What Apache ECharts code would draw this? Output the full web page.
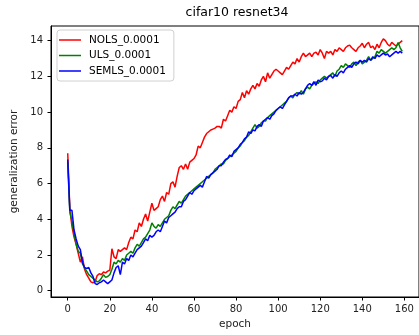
<!DOCTYPE html>
<html>
<head>
<meta charset="utf-8">
<script src="https://cdn.jsdelivr.net/npm/echarts@6/dist/echarts.min.js"></script>
<style>html,body{margin:0;padding:0;background:#fff}#c{width:419px;height:335px}</style>
</head>
<body>
<div id="c"></div>
<script>
const epochs = Array.from({length: 160}, (_, i) => i);
const xTicks = [0, 20, 40, 60, 80, 100, 120, 140, 160];
const yTicks = [0, 2, 4, 6, 8, 10, 12, 14];
const seriesNames = ['NOLS_0.0001', 'ULS_0.0001', 'SEMLS_0.0001'];

const nols = [
7.7,4.6,3.6,3.0,2.6,2.1,1.6,1.9,1.2,0.9,
0.7,0.5,0.45,0.5,0.85,0.95,0.9,1.05,1.0,1.1,
1.15,2.35,1.9,1.8,2.3,2.2,2.3,2.4,2.3,2.7,
3.0,2.9,3.4,3.3,3.8,3.6,4.0,4.3,3.9,4.4,
4.9,4.5,4.6,4.7,5.1,5.3,5.0,5.5,5.4,6.0,
6.1,5.8,6.4,6.9,7.0,6.8,7.1,6.8,7.2,7.3,
7.4,7.6,8.1,8.0,8.3,8.6,8.8,8.9,9.0,9.05,
9.1,9.2,9.2,9.1,9.6,9.5,9.8,10.1,10.0,10.3,
10.2,10.6,10.7,11.1,10.8,11.2,11.0,11.3,11.5,11.3,
11.6,11.45,11.8,12.0,11.7,12.2,11.9,12.1,12.3,12.4,
12.3,12.2,12.1,12.3,12.5,12.4,12.6,12.8,12.7,13.0,
12.8,13.1,13.3,13.1,13.2,13.3,13.1,13.3,13.35,13.2,
13.5,13.3,13.0,13.4,13.3,13.4,13.2,13.5,13.4,13.6,
13.5,13.4,13.6,13.7,13.75,13.6,13.5,13.4,13.6,13.7,
13.85,13.6,13.8,13.9,13.6,13.7,13.5,13.8,13.6,13.9,
14.1,14.0,13.8,13.7,13.9,13.8,13.7,13.8,13.9,14.0
];
const uls = [
7.2,4.4,3.9,3.2,2.6,2.2,2.1,1.5,1.3,1.1,
0.9,0.8,0.7,0.6,0.5,0.55,0.7,0.9,0.75,0.8,
0.9,1.2,1.6,1.5,1.7,1.6,1.8,1.7,2.0,2.1,
2.2,2.1,2.4,2.6,2.5,2.7,2.9,3.0,3.2,3.4,
3.8,3.6,3.5,3.7,3.6,3.8,4.0,4.1,4.2,4.5,
4.7,4.6,4.8,5.0,4.9,5.1,5.3,5.4,5.5,5.6,
5.7,5.8,5.9,6.0,6.1,6.2,6.3,6.4,6.5,6.6,
6.8,6.9,7.0,7.1,7.1,7.3,7.4,7.5,7.6,7.7,
7.8,8.0,8.1,8.3,8.4,8.6,8.7,8.9,9.1,9.3,
9.1,9.2,9.4,9.5,9.5,9.7,9.8,9.9,10.0,10.1,
10.2,10.3,10.4,10.5,10.6,10.8,10.9,10.8,11.0,11.1,
11.0,11.2,11.0,11.3,11.4,11.3,11.5,11.6,11.7,11.6,
11.8,11.9,12.0,11.9,12.0,12.1,12.2,12.0,12.3,12.4,
12.6,12.5,12.7,12.6,12.5,12.7,12.8,12.6,12.8,12.9,
12.7,12.8,12.9,13.1,12.9,13.0,13.1,13.4,13.3,13.5,
13.4,13.3,13.4,13.5,13.6,13.5,13.6,13.9,13.6,13.4
];
const semls = [
7.35,4.5,4.5,3.4,2.9,2.5,2.3,1.6,1.3,1.25,
1.3,1.0,0.8,0.4,0.35,0.45,0.5,0.6,0.5,0.4,
0.5,0.6,1.0,1.3,1.4,0.9,1.6,1.5,1.8,1.7,
2.0,1.9,2.1,2.3,2.4,2.5,2.7,2.9,2.8,3.1,
3.0,3.1,3.3,3.4,3.3,3.6,3.9,3.8,4.1,4.2,
4.3,4.4,4.6,4.7,4.7,5.0,5.1,5.3,5.5,5.4,
5.6,5.7,5.8,5.9,5.8,6.1,6.4,6.3,6.5,6.6,
6.7,6.8,7.0,7.0,7.2,7.35,7.4,7.6,7.5,7.8,
7.9,8.0,8.2,8.3,8.5,8.6,8.9,8.8,9.0,8.95,
9.2,9.3,9.2,9.5,9.6,9.7,9.6,9.8,9.9,10.1,
10.2,10.3,10.2,10.4,10.6,10.8,10.9,10.9,11.0,10.9,
11.1,11.0,11.1,11.3,11.5,11.6,11.5,11.7,11.5,11.8,
11.7,11.75,11.9,11.8,12.0,12.05,11.9,12.1,12.0,12.2,
12.3,12.2,12.4,12.5,12.6,12.5,12.7,12.8,12.7,12.9,
12.8,12.9,12.8,13.0,12.9,13.1,13.0,13.2,13.1,13.2,
13.3,13.2,13.25,13.1,13.2,13.3,13.4,13.3,13.4,13.3
];

const colors = ['#ff0000', '#008000', '#0000ff'];
const values = [nols, uls, semls];
const font = 'DejaVu Sans';

const chart = echarts.init(document.getElementById('c'), null, {renderer: 'canvas'});
chart.setOption({
  animation: false,
  backgroundColor: '#fff',
  textStyle: {fontFamily: font},
  graphic: [{
    type: 'text', x: 237, y: 13, z: 100,
    style: {text: 'cifar10 resnet34', font: '12.5px "DejaVu Sans"', fill: '#000', align: 'center', verticalAlign: 'middle'}
  }],
  grid: {left: 51, top: 26, right: -4, bottom: 36, containLabel: false,
         show: true, borderColor: '#000', borderWidth: 1, backgroundColor: 'transparent'},
  legend: {
    orient: 'vertical', left: 57, top: 30,
    data: seriesNames,
    icon: 'rect', itemWidth: 22, itemHeight: 1.5, itemGap: 3.5,
    padding: [4, 8, 4, 2],
    borderColor: '#d0d0d0', borderWidth: 1, borderRadius: 3,
    backgroundColor: 'rgba(255,255,255,0.8)',
    textStyle: {fontFamily: font, fontSize: 10.5, color: '#000', lineHeight: 12, padding: [0, 0, 0, 3]}
  },
  xAxis: {
    type: 'value', min: -7.95, max: 166.95,
    splitLine: {show: false},
    axisLine: {onZero: false, lineStyle: {color: '#000', width: 1}},
    axisTick: {customValues: xTicks, length: 3.5, lineStyle: {color: '#000'}},
    axisLabel: {customValues: xTicks, color: '#222', fontSize: 10, fontFamily: font, margin: 7},
    name: 'epoch', nameLocation: 'middle', nameGap: 22,
    nameTextStyle: {color: '#222', fontSize: 10.5, fontFamily: font}
  },
  yAxis: {
    type: 'value', min: -0.35, max: 14.82,
    splitLine: {show: false},
    axisLine: {show: true, onZero: false, lineStyle: {color: '#000', width: 1}},
    axisTick: {show: true, customValues: yTicks, length: 3.5, lineStyle: {color: '#000'}},
    axisLabel: {customValues: yTicks, color: '#222', fontSize: 10, fontFamily: font, margin: 8},
    name: 'generalization error', nameLocation: 'middle', nameGap: 27,
    nameTextStyle: {color: '#222', fontSize: 10.5, fontFamily: font}
  },
  series: seriesNames.map((n, k) => ({
    name: n, type: 'line', symbol: 'none', showSymbol: false,
    data: epochs.map((e, i) => [e, values[k][i]]),
    lineStyle: {color: colors[k], width: 1.5},
    itemStyle: {color: colors[k]}
  }))
});
</script>
</body>
</html>
